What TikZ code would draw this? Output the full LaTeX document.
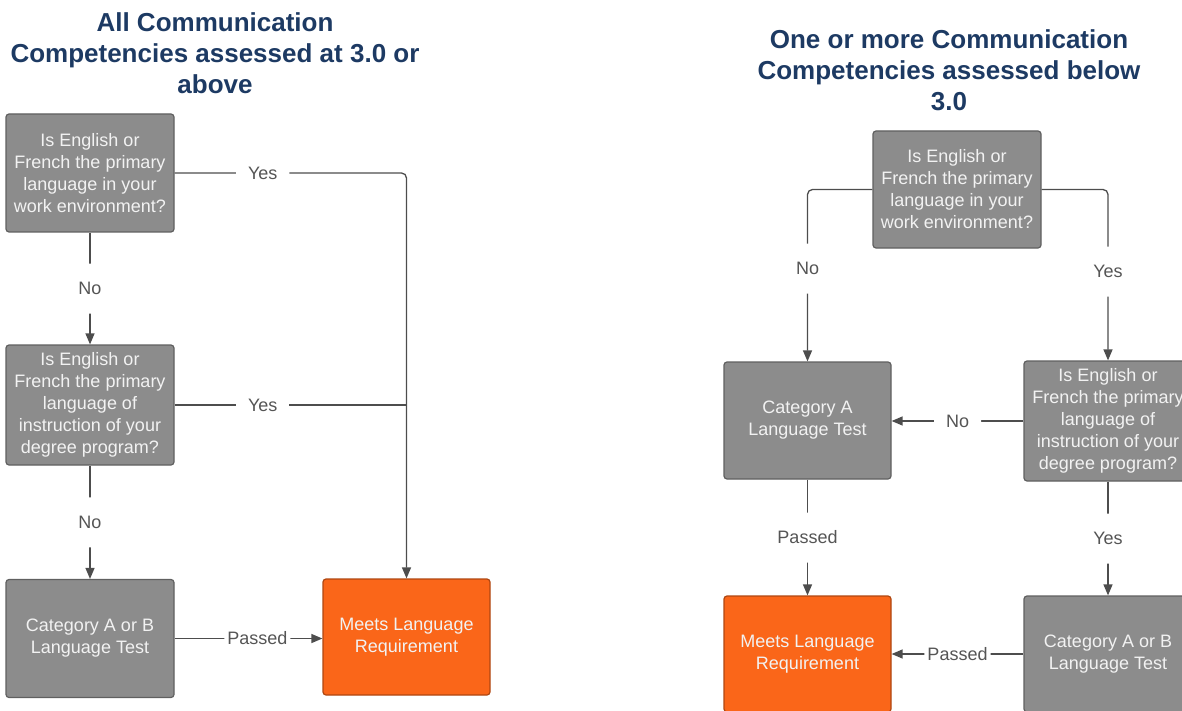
\documentclass[tikz,border=0pt]{standalone}
\usepackage{fontspec}
\setmainfont{Liberation Sans}
\usepackage{xcolor}
\usetikzlibrary{positioning,arrows.meta}

\definecolor{boxgray}{HTML}{8C8C8C}
\definecolor{edgegray}{HTML}{606060}
\definecolor{linegray}{HTML}{4D4D4D}
\definecolor{lblgray}{HTML}{555555}
\definecolor{meetorange}{HTML}{FA6619}
\definecolor{titleblue}{HTML}{1D3A63}
\definecolor{boxtext}{HTML}{F2F2F2}

\begin{document}
\begin{tikzpicture}
    [
      x=1pt, y=-1pt,
      every node/.style = {align=center, inner sep=0pt},
      qbox/.style = {shape=rectangle, rounded corners=3pt, draw=edgegray, line width=1.2pt, fill=boxgray, text=boxtext, minimum width=168pt, minimum height=118pt, font=\fontsize{18}{22}\selectfont},
      goal/.style = {qbox, fill=meetorange, draw=meetorange!70!black},
      heading/.style = {text=titleblue, font=\fontsize{26}{31}\selectfont\bfseries},
      link/.style = {draw=linegray, line width=1.3pt, rounded corners=5pt, -{Triangle[length=11pt,width=9pt]}},
      merge/.style = {draw=linegray, line width=1.3pt},
      hlbl/.style = {fill=white, text=lblgray, inner xsep=12pt, inner ysep=4pt, font=\fontsize{18}{22}\selectfont},
      vlbl/.style = {hlbl, inner xsep=4pt, minimum height=50pt},
      plbl/.style = {hlbl, inner xsep=3pt}
    ]

    \clip (0,0) rectangle (1182,711);

    \node[heading] (head1) at (215,53) {All Communication\\Competencies assessed at 3.0 or\\above};
    \node[heading] (head2) at (949,70) {One or more Communication\\Competencies assessed below\\3.0};

    \node[qbox] (wq1) at (90,173) {Is English or\\French the primary\\language in your\\work environment?};
    \node[qbox, minimum height=120pt] (dq1) at (90,405) {Is English or\\French the primary\\language of\\instruction of your\\degree program?};
    \node[qbox] (test1) at (90,638.5) {Category A or B\\Language Test};
    \node[goal, minimum width=167pt, minimum height=116pt] (meet1) at (406.5,637) {Meets Language\\Requirement};

    \node[qbox, minimum height=117pt] (wq2) at (957,189.5) {Is English or\\French the primary\\language in your\\work environment?};
    \node[qbox, minimum width=167pt, minimum height=117pt] (catA) at (807.5,420.5) {Category A\\Language Test};
    \node[qbox, minimum height=120pt] (dq2) at (1108,421) {Is English or\\French the primary\\language of\\instruction of your\\degree program?};
    \node[goal, minimum width=167pt, minimum height=116pt] (meet2) at (807.5,654) {Meets Language\\Requirement};
    \node[qbox, minimum height=116pt] (test2) at (1108,654) {Category A or B\\Language Test};

    \draw[link] (wq1.east) -| node[hlbl, pos=0.19]{Yes} (meet1.north);
    \draw[merge] (dq1.east) -- node[hlbl, pos=0.38]{Yes} (dq1.east -| meet1.north);
    \draw[link] (wq1) -- node[vlbl]{No} (dq1);
    \draw[link] (dq1) -- node[vlbl]{No} (test1);
    \draw[link] (test1.east) -- node[plbl, pos=0.56]{Passed} (test1.east -| meet1.west);

    \draw[link] (wq2.west) -| node[vlbl, pos=0.73]{No} (catA.north);
    \draw[link] (wq2.east) -| node[vlbl, pos=0.74]{Yes} (dq2.north);
    \draw[link] (dq2.west) -- node[hlbl]{No} (dq2.west -| catA.east);
    \draw[link] (catA) -- node[vlbl]{Passed} (meet2);
    \draw[link] (dq2) -- node[vlbl]{Yes} (test2);
    \draw[link] (test2.west) -- node[plbl]{Passed} (test2.west -| meet2.east);
\end{tikzpicture}
\end{document}
